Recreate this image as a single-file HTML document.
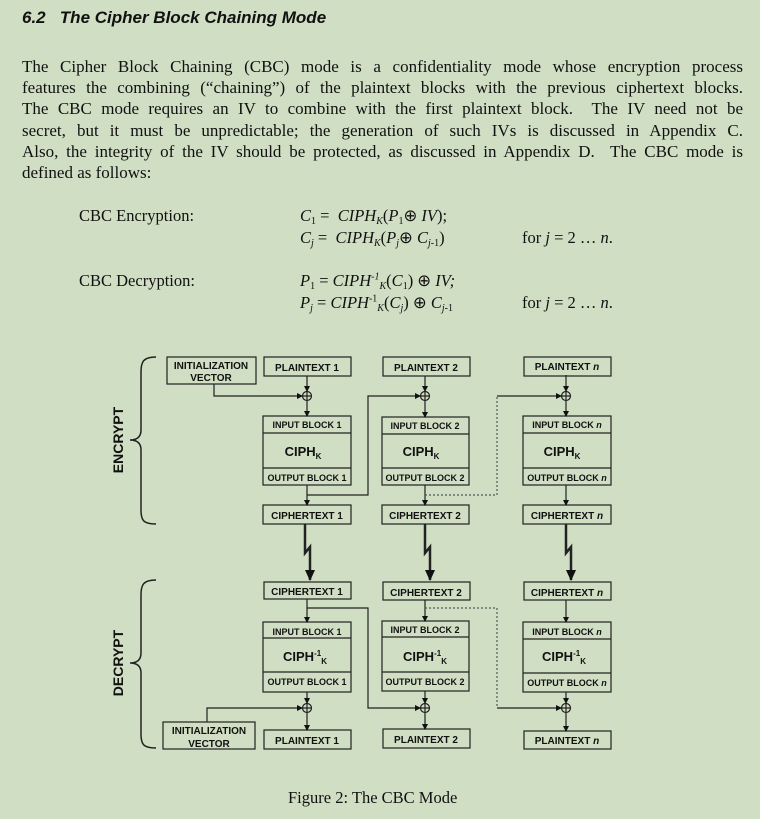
<!DOCTYPE html>
<html><head><meta charset="utf-8"><style>
body{margin:0;width:760px;height:819px;background:#d0dec4;position:relative;overflow:hidden;font-family:"Liberation Serif",serif;color:#111}
.a{position:absolute;white-space:nowrap}
h2{position:absolute;left:22px;top:8px;margin:0;font:italic bold 17px "Liberation Sans",sans-serif}
.p{position:absolute;left:22px;top:56px;width:721px;font-size:17px;line-height:21.2px}
.p div{text-align:justify;text-align-last:justify;white-space:nowrap}
.p div.l{text-align-last:left}
.f{font-size:16.5px}
i{font-style:italic}
sub{font-size:10px;vertical-align:-3px}
sup{font-size:10px}
</style></head><body>
<h2>6.2&nbsp;&nbsp;&nbsp;The Cipher Block Chaining Mode</h2>
<div class="p">
<div>The Cipher Block Chaining (CBC) mode is a confidentiality mode whose encryption process</div>
<div>features the combining (“chaining”) of the plaintext blocks with the previous ciphertext blocks.</div>
<div>The CBC mode requires an IV to combine with the first plaintext block.&nbsp; The IV need not be</div>
<div>secret, but it must be unpredictable; the generation of such IVs is discussed in Appendix C.</div>
<div>Also, the integrity of the IV should be protected, as discussed in Appendix D.&nbsp; The CBC mode is</div>
<div class="l">defined as follows:</div>
</div>
<div class="a f" style="left:79px;top:206px">CBC Encryption:</div>
<div class="a f" style="left:300px;top:206px"><i>C</i><sub>1</sub> =&nbsp; <i>CIPH<sub>K</sub></i>(<i>P</i><sub>1</sub>⊕ <i>IV</i>);</div>
<div class="a f" style="left:300px;top:228px"><i>C<sub>j</sub></i> =&nbsp; <i>CIPH<sub>K</sub></i>(<i>P<sub>j</sub></i>⊕ <i>C<sub>j</sub></i><sub>-1</sub>)</div>
<div class="a f" style="left:522px;top:228px">for <i>j</i> = 2 … <i>n</i>.</div>
<div class="a f" style="left:79px;top:271px">CBC Decryption:</div>
<div class="a f" style="left:300px;top:271px"><i>P</i><sub>1</sub> = <i>CIPH</i><sup><i>-1</i></sup><sub><i>K</i></sub>(<i>C</i><sub>1</sub>) ⊕ <i>IV;</i></div>
<div class="a f" style="left:300px;top:293px"><i>P<sub>j</sub></i> = <i>CIPH</i><sup>-1</sup><sub><i>K</i></sub>(<i>C<sub>j</sub></i>) ⊕ <i>C<sub>j</sub></i><sub>-1</sub></div>
<div class="a f" style="left:522px;top:293px">for <i>j</i> = 2 … <i>n</i>.</div>
<div class="a f" style="left:288px;top:788px">Figure 2: The CBC Mode</div>
<svg width="760" height="819" style="position:absolute;left:0;top:0" font-family="Liberation Sans,sans-serif" font-weight="bold">
<defs><marker id="ar" markerWidth="6" markerHeight="6" refX="5" refY="3" orient="auto" markerUnits="userSpaceOnUse"><path d="M0,0L6,3L0,6z" fill="#111"/></marker>
<marker id="ab" markerWidth="12" markerHeight="10" refX="10" refY="5" orient="auto" markerUnits="userSpaceOnUse"><path d="M0,0L11,5L0,10z" fill="#111"/></marker></defs>
<g fill="none" stroke="#222" stroke-width="1.2">
<path d="M156,357 C143,357 141,362 141,372 L141,430 C141,437 137,440 130,440 C137,440 141,443 141,450 L141,510 C141,520 143,524 156,524" stroke-width="1.5"/>
<path d="M156,580 C143,580 141,585 141,595 L141,653 C141,660 137,663 130,663 C137,663 141,666 141,673 L141,734 C141,744 143,748 156,748" stroke-width="1.5"/>
<rect x="167" y="357" width="89" height="27"/>
<rect x="264" y="357" width="87" height="19"/><rect x="383" y="357" width="87" height="19"/><rect x="524" y="357" width="87" height="19"/>
<rect x="263" y="416" width="88" height="69"/><line x1="263" y1="433" x2="351" y2="433"/><line x1="263" y1="468" x2="351" y2="468"/>
<rect x="382" y="417" width="87" height="68"/><line x1="382" y1="434" x2="469" y2="434"/><line x1="382" y1="468" x2="469" y2="468"/>
<rect x="523" y="416" width="88" height="69"/><line x1="523" y1="433" x2="611" y2="433"/><line x1="523" y1="468" x2="611" y2="468"/>
<rect x="263" y="505" width="88" height="19"/><rect x="382" y="505" width="87" height="19"/><rect x="523" y="505" width="88" height="19"/>
<circle cx="307" cy="396" r="4.5"/><path d="M302.5,396h9M307,391.5v9"/>
<circle cx="425" cy="396" r="4.5"/><path d="M420.5,396h9M425,391.5v9"/>
<circle cx="566" cy="396" r="4.5"/><path d="M561.5,396h9M566,391.5v9"/>
<g marker-end="url(#ar)">
<path d="M307,376V391"/><path d="M425,376V391"/><path d="M566,375V391"/>
<path d="M307,401V416"/><path d="M425,401V417"/><path d="M566,401V416"/>
<path d="M214,384V396H302"/>
<path d="M307,485V505"/><path d="M425,485V505"/><path d="M566,485V505"/>
<path d="M307,495H368V396H420"/>
<path d="M497,396H561"/>
</g>
<path d="M425,495H497V396" stroke-dasharray="2,2" stroke="#555"/>
<g stroke-width="2.5" marker-end="url(#ab)">
<path d="M305,524V553L310,547V580"/><path d="M425,524V553L430,547V580"/><path d="M566,524V553L571,547V580"/>
</g>
<rect x="264" y="582" width="87" height="17"/><rect x="383" y="582" width="87" height="18"/><rect x="524" y="582" width="87" height="18"/>
<rect x="263" y="622" width="88" height="70"/><line x1="263" y1="638" x2="351" y2="638"/><line x1="263" y1="672" x2="351" y2="672"/>
<rect x="382" y="621" width="87" height="70"/><line x1="382" y1="637" x2="469" y2="637"/><line x1="382" y1="672" x2="469" y2="672"/>
<rect x="523" y="622" width="88" height="70"/><line x1="523" y1="639" x2="611" y2="639"/><line x1="523" y1="673" x2="611" y2="673"/>
<rect x="163" y="722" width="92" height="27"/>
<rect x="264" y="730" width="87" height="19"/><rect x="383" y="729" width="87" height="19"/><rect x="524" y="731" width="87" height="18"/>
<circle cx="307" cy="708" r="4.5"/><path d="M302.5,708h9M307,703.5v9"/>
<circle cx="425" cy="708" r="4.5"/><path d="M420.5,708h9M425,703.5v9"/>
<circle cx="566" cy="708" r="4.5"/><path d="M561.5,708h9M566,703.5v9"/>
<g marker-end="url(#ar)">
<path d="M307,599V622"/><path d="M425,600V621"/><path d="M566,600V622"/>
<path d="M307,692V703"/><path d="M425,691V703"/><path d="M566,692V703"/>
<path d="M307,713V730"/><path d="M425,713V729"/><path d="M566,713V731"/>
<path d="M207,722V708H302"/>
<path d="M307,608H368V708H420"/>
<path d="M497,708H561"/>
</g>
<path d="M425,608H497V708" stroke-dasharray="2,2" stroke="#555"/>
</g>
<g fill="#111" font-size="10" text-anchor="middle">
<text x="211" y="369">INITIALIZATION</text><text x="211" y="381">VECTOR</text>
<text x="307" y="371">PLAINTEXT 1</text><text x="426" y="371">PLAINTEXT 2</text><text x="567" y="370">PLAINTEXT <tspan font-style="italic">n</tspan></text>
<g font-size="9"><text x="307" y="428">INPUT BLOCK 1</text><text x="425" y="429">INPUT BLOCK 2</text><text x="567" y="428">INPUT BLOCK <tspan font-style="italic">n</tspan></text>
<text x="307" y="481">OUTPUT BLOCK 1</text><text x="425" y="481">OUTPUT BLOCK 2</text><text x="567" y="481">OUTPUT BLOCK <tspan font-style="italic">n</tspan></text>
<text x="307" y="635">INPUT BLOCK 1</text><text x="425" y="633">INPUT BLOCK 2</text><text x="567" y="635">INPUT BLOCK <tspan font-style="italic">n</tspan></text>
<text x="307" y="685">OUTPUT BLOCK 1</text><text x="425" y="685">OUTPUT BLOCK 2</text><text x="567" y="686">OUTPUT BLOCK <tspan font-style="italic">n</tspan></text></g>
<g font-size="13"><text x="303" y="456">CIPH<tspan font-size="8" dy="3">K</tspan></text><text x="421" y="456">CIPH<tspan font-size="8" dy="3">K</tspan></text><text x="562" y="456">CIPH<tspan font-size="8" dy="3">K</tspan></text>
<text x="305" y="661">CIPH<tspan font-size="8" dy="-5">-1</tspan><tspan font-size="8" dy="8">K</tspan></text><text x="425" y="661">CIPH<tspan font-size="8" dy="-5">-1</tspan><tspan font-size="8" dy="8">K</tspan></text><text x="564" y="661">CIPH<tspan font-size="8" dy="-5">-1</tspan><tspan font-size="8" dy="8">K</tspan></text></g>
<text x="307" y="519">CIPHERTEXT 1</text><text x="425" y="519">CIPHERTEXT 2</text><text x="567" y="519">CIPHERTEXT <tspan font-style="italic">n</tspan></text>
<text x="307" y="595">CIPHERTEXT 1</text><text x="426" y="596">CIPHERTEXT 2</text><text x="567" y="596">CIPHERTEXT <tspan font-style="italic">n</tspan></text>
<text x="209" y="734">INITIALIZATION</text><text x="209" y="747">VECTOR</text>
<text x="307" y="744">PLAINTEXT 1</text><text x="426" y="743">PLAINTEXT 2</text><text x="567" y="744">PLAINTEXT <tspan font-style="italic">n</tspan></text>
<text font-size="14" transform="translate(123,440) rotate(-90)">ENCRYPT</text>
<text font-size="14" transform="translate(123,663) rotate(-90)">DECRYPT</text>
</g>
</svg>
</body></html>
